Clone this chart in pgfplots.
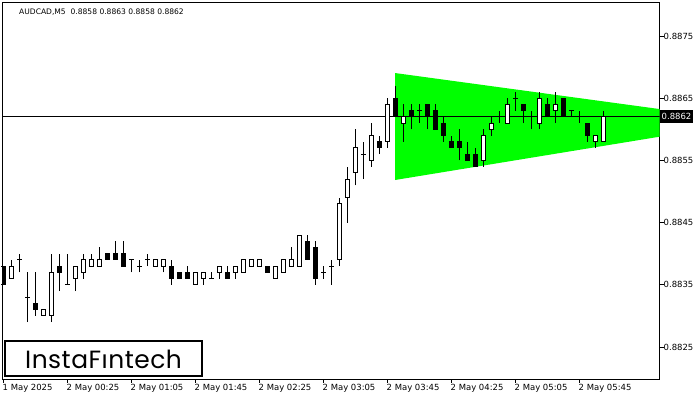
\documentclass[border=0pt]{standalone}
\usepackage{pgfplots}
\pgfplotsset{compat=1.18}
\usepackage{pgfplotstable}
\usepackage{fontspec}
\setmainfont{DejaVu Sans}
\newfontfamily\logofont[LetterSpace=2]{Poppins}
\definecolor{tri}{RGB}{0,255,0}

\pgfplotstableread{
i O H L C
0 0.8838 0.8838 0.8835 0.8835
1 0.8836 0.8839 0.8836 0.8838
2 0.8839 0.8840 0.8837 0.8839
3 0.8833 0.8837 0.8829 0.8833
4 0.8832 0.8837 0.8830 0.8831
5 0.8830 0.8831 0.8830 0.8831
6 0.8830 0.8840 0.8829 0.8837
7 0.8838 0.8840 0.8834 0.8837
8 0.8835 0.8840 0.8835 0.8835
9 0.8836 0.8838 0.8834 0.8838
10 0.8837 0.8840 0.8836 0.8839
11 0.8838 0.8840 0.8838 0.8839
12 0.8838 0.8841 0.8838 0.8839
13 0.8840 0.8840 0.8839 0.8839
14 0.8840 0.8842 0.8839 0.8839
15 0.8840 0.8842 0.8838 0.8838
16 0.8839 0.8839 0.8837 0.8839
17 0.8838 0.8839 0.8837 0.8838
18 0.8839 0.8840 0.8838 0.8839
19 0.8838 0.8839 0.8838 0.8839
20 0.8838 0.8839 0.8837 0.8839
21 0.8838 0.8839 0.8835 0.8836
22 0.8837 0.8837 0.8836 0.8836
23 0.8837 0.8838 0.8836 0.8836
24 0.8835 0.8837 0.8835 0.8837
25 0.8836 0.8837 0.8835 0.8837
26 0.8836 0.8837 0.8836 0.8836
27 0.8837 0.8838 0.8836 0.8838
28 0.8837 0.8838 0.8836 0.8836
29 0.8837 0.8838 0.8836 0.8838
30 0.8837 0.8839 0.8837 0.8839
31 0.8838 0.8839 0.8838 0.8839
32 0.8838 0.8839 0.8838 0.8839
33 0.8838 0.8838 0.8837 0.8837
34 0.8836 0.8838 0.8836 0.8838
35 0.8837 0.8839 0.8837 0.8839
36 0.8838 0.8841 0.8838 0.8839
37 0.8838 0.8843 0.8838 0.8843
38 0.8842 0.8843 0.8839 0.8839
39 0.8841 0.8842 0.8835 0.8836
40 0.8837 0.8838 0.8836 0.8837
41 0.8838 0.8839 0.8835 0.8838
42 0.8839 0.8849 0.8838 0.8848
43 0.8849 0.8854 0.8845 0.8852
44 0.8853 0.8860 0.8851 0.8857
45 0.8856 0.8858 0.8852 0.8856
46 0.8855 0.8861 0.8854 0.8859
47 0.8858 0.8859 0.8856 0.8857
48 0.8858 0.8865 0.8857 0.8864
49 0.8865 0.8867 0.8862 0.8862
50 0.8861 0.8864 0.8858 0.8862
51 0.8863 0.8864 0.8860 0.8862
52 0.8863 0.8864 0.8861 0.8863
53 0.8864 0.8864 0.8860 0.8862
54 0.8863 0.8864 0.8860 0.8860
55 0.8861 0.8862 0.8858 0.8859
56 0.8858 0.8859 0.8857 0.8857
57 0.8858 0.8860 0.8855 0.8857
58 0.8856 0.8858 0.8855 0.8855
59 0.8856 0.8857 0.8854 0.8854
60 0.8855 0.8860 0.8854 0.8859
61 0.8860 0.8862 0.8859 0.8861
62 0.8862 0.8863 0.8861 0.8862
63 0.8861 0.8865 0.8861 0.8864
64 0.8865 0.8866 0.8863 0.8865
65 0.8864 0.8864 0.8861 0.8863
66 0.8862 0.8863 0.8860 0.8862
67 0.8861 0.8866 0.8860 0.8865
68 0.8864 0.8865 0.8862 0.8862
69 0.8863 0.8866 0.8861 0.8864
70 0.8865 0.8865 0.8862 0.8862
71 0.8863 0.8863 0.8862 0.8863
72 0.8862 0.8863 0.8861 0.8862
73 0.8861 0.8861 0.8858 0.8859
74 0.8858 0.8859 0.8857 0.8859
75 0.8858 0.8863 0.8858 0.8862
}\candles

\begin{document}
\begin{tikzpicture}
\begin{axis}[
  scale only axis, width=657bp, height=377bp,
  xmin=-0.0625, xmax=82.06, ymin=0.8819855, ymax=0.888047,
  axis line style={black, line width=1bp},
  xtick={0,8,16,24,32,40,48,56,64,72},
  xticklabels={1 May 2025,2 May 00:25,2 May 01:05,2 May 01:45,2 May 02:25,2 May 03:05,2 May 03:45,2 May 04:25,2 May 05:05,2 May 05:45},
  ytick={0.8825,0.8835,0.8845,0.8855,0.8865,0.8875},
  yticklabels={0.8825,0.8835,0.8845,0.8855,0.8865,0.8875},
  tick align=outside, major tick length=4bp,
  xtick pos=bottom, ytick pos=right, yticklabel pos=right,
  tick style={black, line width=1bp},
  xticklabel style={font=\fontsize{8.5}{10}\selectfont, anchor=north west, inner sep=0pt, xshift=-0.5bp, yshift=-1bp},
  yticklabel style={font=\fontsize{8.5}{10}\selectfont, anchor=west, inner sep=0pt, xshift=0bp},
]
% triangle
\addplot[fill=tri, draw=none, forget plot] coordinates {(49,0.886905) (82.06,0.886326) (82.06,0.885881) (49,0.885185)} -- cycle;
% bid line
\addplot[black, line width=0.8bp, forget plot] coordinates {(-1,0.8862) (84,0.8862)};
% wicks
\addplot[draw=none, mark=none, forget plot, error bars/.cd, y dir=plus, y explicit, error mark=none,
  error bar style={draw=black, line width=1bp}]
  table[x=i, y=L, y error expr={\thisrow{H}-\thisrow{L}}] {\candles};
% bodies (black)
\addplot[draw=none, mark=none, forget plot, error bars/.cd, y dir=plus, y explicit, error mark=none,
  error bar style={draw=black, line width=5bp}]
  table[x=i, y expr={min(\thisrow{O},\thisrow{C})}, y error expr={abs(\thisrow{C}-\thisrow{O})}] {\candles};
% bullish interior (white)
\addplot[draw=none, mark=none, forget plot, error bars/.cd, y dir=plus, y explicit, error mark=none,
  error bar style={draw=white, line width=3bp}]
  table[x=i, y=O, y error expr={max(\thisrow{C}-\thisrow{O},0)}] {\candles};
% open / close edges
\addplot[only marks, mark=-, mark size=2.5bp, mark options={draw=black, line width=1bp}, forget plot]
  table[x=i, y=O] {\candles};
\addplot[only marks, mark=-, mark size=2.5bp, mark options={draw=black, line width=1bp}, forget plot]
  table[x=i, y=C] {\candles};
\coordinate (bid) at (axis cs:82.06,0.8862);
\end{axis}
% price label
\node[anchor=west, fill=black, text=white, inner xsep=1.5bp, inner ysep=0pt, minimum height=13bp,
  font=\fontsize{8.5}{10}\selectfont] at ([xshift=0.5bp]bid) {0.8862};
% header
\node[anchor=west, inner sep=0pt, font=\fontsize{7.6}{9}\selectfont] at (16.5bp,367bp) {AUDCAD,M5\ \ 0.8858 0.8863 0.8858 0.8862};
% logo
\draw[line width=2bp, fill=white] (2bp,3bp) rectangle (199.5bp,38bp);
\node[inner sep=0pt, font=\logofont\fontsize{25}{28}\selectfont] at (101bp,20bp) {InstaFıntech};
\pgfresetboundingbox
\path (-2.5bp,-21bp) rectangle (697.5bp,379bp);
\end{tikzpicture}
\end{document}
